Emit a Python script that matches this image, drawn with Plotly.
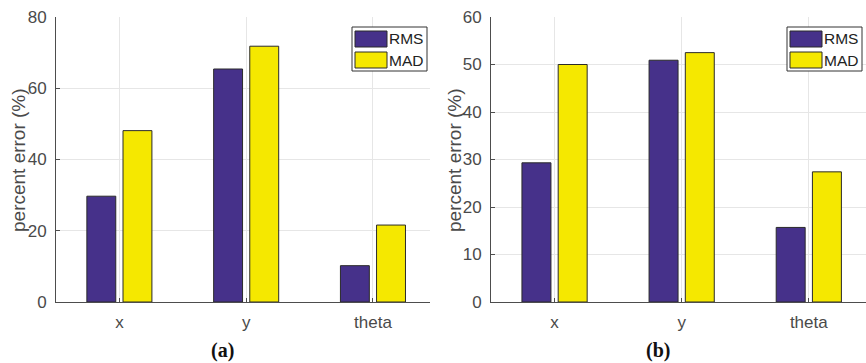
import plotly.graph_objects as go

categories = ["x", "y", "theta"]
rms_a = [29.7, 65.4, 10.2]
mad_a = [48.1, 71.8, 21.6]
rms_b = [29.3, 50.9, 15.7]
mad_b = [50.0, 52.5, 27.4]
series_names = ["RMS", "MAD"]
y_ticks_a = [0, 20, 40, 60, 80]
y_ticks_b = [0, 10, 20, 30, 40, 50, 60]

W, H = 866, 363
RMS_COLOR = "#46318A"
MAD_COLOR = "#F5E800"
TXT = "#4a4a4a"
FONT = "Liberation Sans, Arial, sans-serif"

def px(x):
    return x / W

def py(y):
    return (H - y) / H

fig = go.Figure()
for rms, mad, xa, ya in [(rms_a, mad_a, "x", "y"), (rms_b, mad_b, "x2", "y2")]:
    fig.add_trace(go.Bar(x=categories, y=rms, name=series_names[0], xaxis=xa, yaxis=ya,
                         marker=dict(color=RMS_COLOR, line=dict(color="#2a2a2a", width=1)),
                         showlegend=False))
    fig.add_trace(go.Bar(x=categories, y=mad, name=series_names[1], xaxis=xa, yaxis=ya,
                         marker=dict(color=MAD_COLOR, line=dict(color="#2a2a2a", width=1)),
                         showlegend=False))

ydom = [py(302), py(17)]
common_x = dict(type="category", range=[-0.5, 2.45], showgrid=True, gridcolor="#e6e6e6",
                gridwidth=1, showline=True, linecolor="#4d4d4d", linewidth=1,
                ticks="inside", ticklen=4, tickcolor="#4d4d4d", automargin=False,
                tickfont=dict(family=FONT, size=17, color=TXT), ticklabelstandoff=5,
                zeroline=False, fixedrange=True)
common_y = dict(showgrid=True, gridcolor="#e6e6e6", gridwidth=1, showline=True,
                linecolor="#4d4d4d", linewidth=1, ticks="inside", ticklen=4,
                tickcolor="#4d4d4d", tickfont=dict(family=FONT, size=17, color=TXT),
                ticklabelstandoff=5, zeroline=False, domain=ydom, automargin=False)

fig.update_layout(
    template="none",
    width=W, height=H, margin=dict(l=0, r=0, t=0, b=0, pad=0), autosize=False,
    paper_bgcolor="white", plot_bgcolor="white",
    barmode="group", bargap=0.43, bargroupgap=0.2,
    showlegend=False,
    xaxis=dict(domain=[px(56), px(430)], anchor="y", **common_x),
    yaxis=dict(range=[0, 80], tickvals=y_ticks_a, anchor="x", **common_y),
    xaxis2=dict(domain=[px(491), px(866)], anchor="y2", **common_x),
    yaxis2=dict(range=[0, 60], tickvals=y_ticks_b, anchor="x2", **common_y),
)

shapes = []
annotations = []
for (lx0, ylab_x, cap_x, cap) in [(352, 18, 222, "(a)"), (787, 454, 658, "(b)")]:
    shapes.append(dict(type="rect", xref="paper", yref="paper",
                       x0=px(lx0), x1=px(lx0 + 75), y0=py(71), y1=py(27),
                       line=dict(color="#333333", width=1), fillcolor="white", layer="above"))
    for i, (name, col) in enumerate(zip(series_names, [RMS_COLOR, MAD_COLOR])):
        top = 31 + i * 21
        shapes.append(dict(type="rect", xref="paper", yref="paper",
                           x0=px(lx0 + 3), x1=px(lx0 + 35), y0=py(top + 16), y1=py(top),
                           line=dict(color="#2a2a2a", width=1), fillcolor=col, layer="above"))
        annotations.append(dict(text=name, xref="paper", yref="paper", x=px(lx0 + 35),
                                y=py(top + 8), xanchor="left", yanchor="middle",
                                showarrow=False,
                                font=dict(family=FONT, size=15.5, color="#222222")))
    annotations.append(dict(text="percent error (%)", xref="paper", yref="paper",
                            x=px(ylab_x), y=py(160), textangle=-90, showarrow=False,
                            xanchor="center", yanchor="middle",
                            font=dict(family=FONT, size=19, color=TXT)))
    annotations.append(dict(text="<b>" + cap + "</b>", xref="paper", yref="paper",
                            x=px(cap_x), y=py(350), showarrow=False,
                            xanchor="center", yanchor="middle",
                            font=dict(family="Liberation Serif, DejaVu Serif, serif",
                                      size=20, color="#111111")))

fig.update_layout(shapes=shapes, annotations=annotations)
fig.write_html("out.html")
